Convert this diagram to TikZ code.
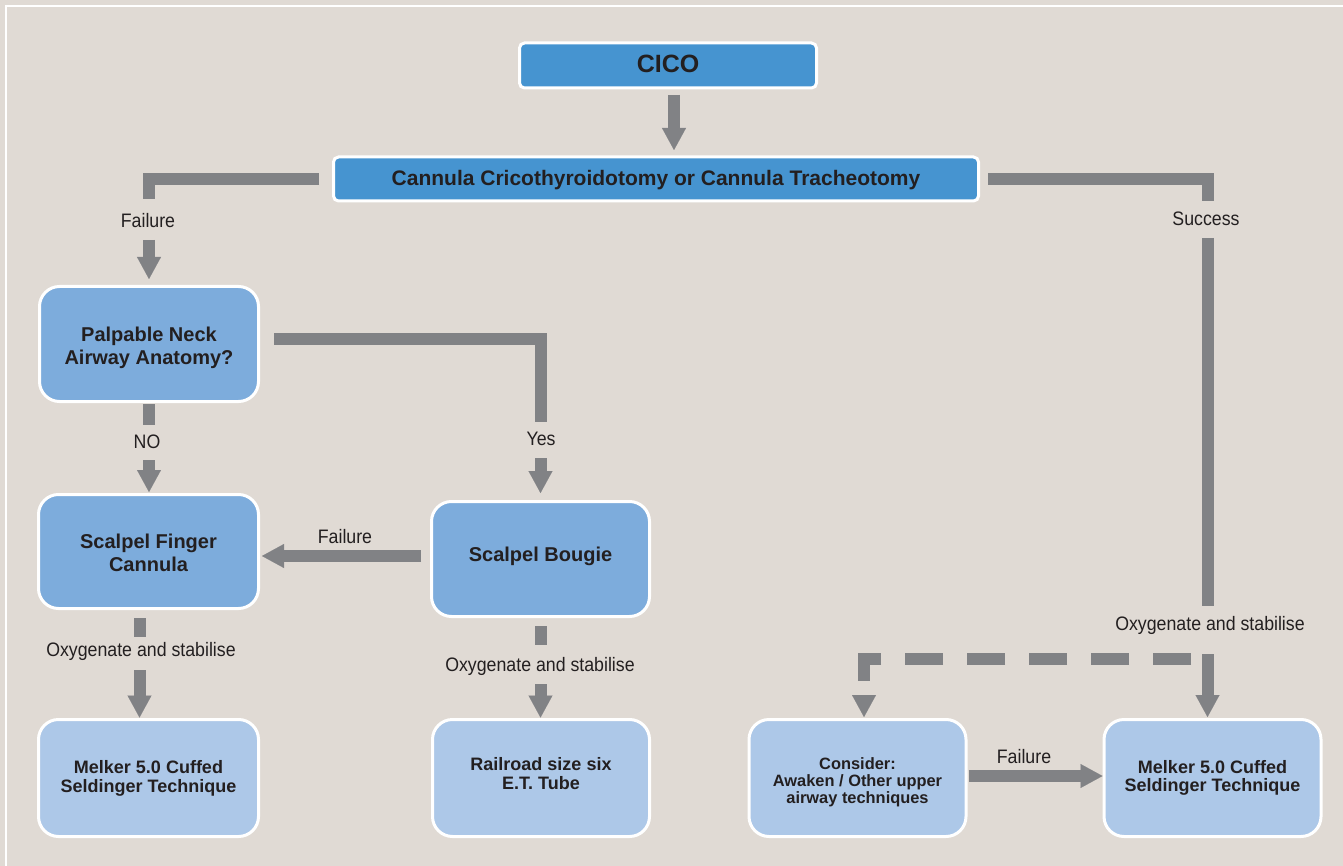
\documentclass[tikz,border=0pt]{standalone}
\usepackage{fontspec}
\setmainfont{Liberation Sans}
\newfontfamily\condfont[FakeStretch=0.91]{Liberation Sans}
\usetikzlibrary{arrows.meta,calc}
\newcommand\myfs[2]{\fontsize{#1}{#2}\selectfont}
\newcommand\liftlines[2]{\raisebox{#1}[\height][\depth]{\begin{tabular}{@{}c@{}}#2\end{tabular}}}
\definecolor{bg}{RGB}{224,218,212}
\definecolor{topblue}{RGB}{70,148,208}
\definecolor{midblue}{RGB}{125,172,220}
\definecolor{lowblue}{RGB}{173,200,232}
\definecolor{agray}{RGB}{129,130,133}
\definecolor{txt}{RGB}{35,31,32}
\tikzset{
  box/.style={draw=white, line width=3pt, align=center, text=txt, inner sep=0pt, outer sep=0pt},
  topbox/.style={box, fill=topblue, rounded corners=5pt, font=\bfseries},
  midbox/.style={box, fill=midblue, rounded corners=20pt, minimum width=219pt, minimum height=115pt, font=\bfseries\myfs{20}{23}},
  lowbox/.style={box, fill=lowblue, rounded corners=20pt, minimum width=217pt, minimum height=117pt, font=\bfseries\myfs{18}{18.5}},
  bar/.style={draw=agray, line width=12pt},
  arr/.style={bar, -{Triangle[length=22pt,width=24pt,line width=0.1pt]}},
  dashbar/.style={arr, dash pattern=on 38.5pt off 23.5pt},
  lbl/.style={font=\condfont\myfs{19.5}{21}, text=txt, inner sep=0pt},
}
\begin{document}
\begin{tikzpicture}[x=1pt,y=-1pt]
\useasboundingbox (0,0) rectangle (1343,866);
\fill[bg] (0,0) rectangle (1343,866);
\draw[white, line width=2.5pt] (6,866) -- (6,6) -- (1343,6);

% boxes
\node[topbox, minimum width=297pt, minimum height=45pt, font=\bfseries\myfs{25}{27}] (cico) at (668,65.5) {\liftlines{-2pt}{CICO}};
\node[topbox, minimum width=645pt, minimum height=44pt, font=\bfseries\myfs{21}{23}] (cannula) at (656,179) {\liftlines{-1.8pt}{Cannula Cricothyroidotomy or Cannula Tracheotomy}};
\node[midbox] (palp) at (149,344) {\liftlines{-4pt}{Palpable Neck\\Airway Anatomy?}};
\node[midbox, minimum width=220pt, minimum height=114pt] (finger) at (148.5,551.5) {\liftlines{-3.8pt}{Scalpel Finger\\Cannula}};
\node[midbox, minimum width=218pt] (bougie) at (540.5,559) {\liftlines{2pt}{Scalpel Bougie}};
\node[lowbox, minimum width=220pt] (melkerL) at (148.5,778) {\liftlines{-1.5pt}{Melker 5.0 Cuffed\\Seldinger Technique}};
\node[lowbox] (rail) at (541,778) {\liftlines{1.5pt}{Railroad size six\\E.T. Tube}};
\node[lowbox, font=\bfseries\myfs{16.4}{17}] (consider) at (857.5,778) {\liftlines{-5.5pt}{Consider:\\Awaken / Other upper\\airway techniques}};
\node[lowbox] (melkerR) at (1212.5,778) {\liftlines{-0.8pt}{Melker 5.0 Cuffed\\Seldinger Technique}};

% labels
\node[lbl] (lf1) at (148,221) {Failure};
\node[lbl] (ls) at (1206,219) {Success};
\node[lbl] (lno) at (147,442) {NO};
\node[lbl] (lyes) at (541,439) {Yes};
\node[lbl] (lox1) at (141,651) {Oxygenate and stabilise};
\node[lbl] (lox2) at (540,666) {Oxygenate and stabilise};
\node[lbl] (lox3) at (1210,625) {Oxygenate and stabilise};
\node[lbl] (lf2) at (345,537) {Failure};
\node[lbl] (lf3) at (1024,757) {Failure};

% connectors
\draw[arr] ($(cico.south)+(6,7)$) -- ($(cannula.north)+(18,-7)$);

\draw[bar] ($(cannula.west)+(-14.5,0.5)$) -| ($(lf1)+(1,-22)$);
\draw[arr] ($(lf1)+(1,19)$) -- ($(palp.north)+(0,-7.5)$);

\draw[bar] ($(cannula.east)+(9.5,0.5)$) -| ($(ls)+(1.5,-18)$);
\draw[bar] ($(ls)+(1.5,19)$) -- ($(lox3)+(-2.5,-19)$);
\coordinate (split) at ($(lox3)+(-2.5,29)$);
\draw[arr] (split) -- ($(melkerR.north)+(-5,-2.5)$);
\draw[dashbar] ($(split)+(-16.5,5)$) -| ($(consider.north)+(6.5,-2.5)$);

\draw[bar] ($(palp.east)+(15.5,-5)$) -| ($(lyes)+(-0.5,-17)$);
\draw[arr] ($(lyes)+(-0.5,19)$) -- ($(bougie.north)+(0,-8.5)$);

\draw[bar] ($(palp.south)+(0,2.5)$) -- ($(lno)+(2,-17)$);
\draw[arr] ($(lno)+(2,18)$) -- ($(finger.north)+(0.5,-2.5)$);

\draw[arr] ($(bougie.west)+(-10.5,-3)$) -- ($(finger.east)+(3.5,4.5)$);

\draw[bar] ($(finger.south)+(-9,9.5)$) -- ($(lox1)+(-1.5,-14)$);
\draw[arr] ($(lox1)+(-1.5,19)$) -- ($(melkerL.north)+(-9,-2)$);

\draw[bar] ($(bougie.south)+(0,9.5)$) -- ($(lox2)+(0.5,-21)$);
\draw[arr] ($(lox2)+(0.5,18)$) -- ($(rail.north)+(-0.5,-2)$);

\draw[arr] ($(consider.east)+(2.5,-2)$) -- ($(melkerR.west)+(-1.5,-2)$);
\end{tikzpicture}
\end{document}
